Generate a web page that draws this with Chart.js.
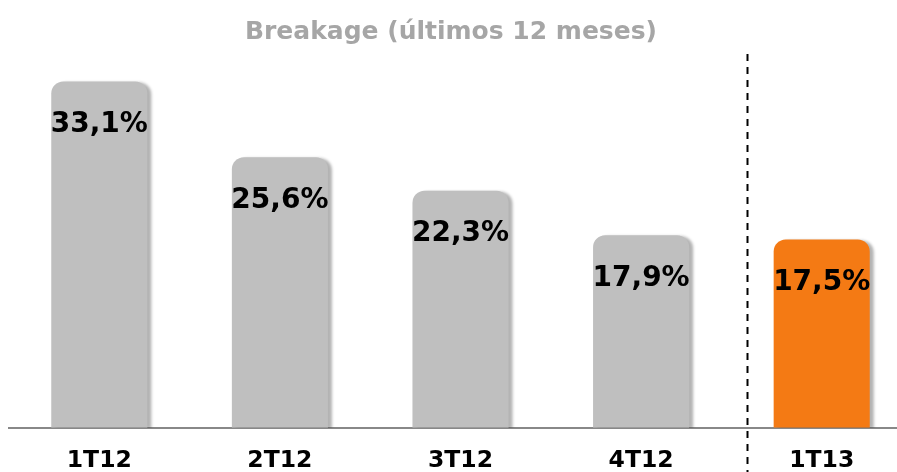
<!DOCTYPE html>
<html>
<head>
<meta charset="utf-8">
<script src="https://cdn.jsdelivr.net/npm/chart.js@4.4.1/dist/chart.umd.min.js"></script>
<style>
  html, body { margin: 0; padding: 0; background: #fff; }
  #wrap { width: 897px; height: 472px; overflow: hidden; position: relative; }
  #box { width: 912px; height: 472px; }
</style>
</head>
<body>
<div id="wrap"><div id="box"><canvas id="chart"></canvas></div></div>
<script>
// data
const quarters = ['1T12', '2T12', '3T12', '4T12', '1T13'];
const breakage = [33.1, 25.6, 22.3, 17.9, 17.5];
const titleText = 'Breakage (últimos 12 meses)';

const GRAY = '#bfbfbf';
const ORANGE = '#f47a14';
const Y_MIN = -1.1;
const Y_MAX = 36;
const DIVIDER_AT = 3.59; // between 4T12 and 1T13, in category units
const FONT = '"DejaVu Sans", Verdana, sans-serif';

// drop shadow on the right of each bar
const barShadow = {
  id: 'barShadow',
  beforeDatasetDraw(chart) {
    const ctx = chart.ctx;
    ctx.save();
    ctx.shadowColor = 'rgba(0,0,0,0.3)';
    ctx.shadowBlur = 3;
    ctx.shadowOffsetX = 4;
    ctx.shadowOffsetY = 1;
  },
  afterDatasetDraw(chart) {
    chart.ctx.restore();
  }
};

// value labels, dashed divider and title
const extras = {
  id: 'extras',
  afterDatasetsDraw(chart) {
    const ctx = chart.ctx;
    const meta = chart.getDatasetMeta(0);
    ctx.save();
    ctx.fillStyle = '#000';
    ctx.font = 'bold 28px ' + FONT;
    ctx.textAlign = 'center';
    ctx.textBaseline = 'middle';
    meta.data.forEach((bar, i) => {
      ctx.fillText(breakage[i].toFixed(1).replace('.', ',') + '%', bar.x, bar.y + 43);
    });

    const x = Math.round(chart.scales.x.getPixelForValue(DIVIDER_AT)) - 0.5;
    ctx.strokeStyle = '#000';
    ctx.lineWidth = 2;
    ctx.setLineDash([7, 6]);
    ctx.beginPath();
    ctx.moveTo(x, 54);
    ctx.lineTo(x, chart.height);
    ctx.stroke();
    ctx.setLineDash([]);

    ctx.fillStyle = '#a6a6a6';
    ctx.font = 'bold 25px ' + FONT;
    ctx.fillText(titleText, 451, 32);
    ctx.restore();
  }
};

new Chart(document.getElementById('chart'), {
  type: 'bar',
  data: {
    labels: quarters,
    datasets: [{
      data: breakage,
      base: Y_MIN,
      backgroundColor: quarters.map((q, i) => i === quarters.length - 1 ? ORANGE : GRAY),
      borderWidth: 0,
      borderRadius: { topLeft: 12, topRight: 12, bottomLeft: 0, bottomRight: 0 },
      borderSkipped: false,
      barPercentage: 0.532,
      categoryPercentage: 1
    }]
  },
  options: {
    responsive: true,
    maintainAspectRatio: false,
    animation: false,
    layout: { padding: { top: 52, left: 9, right: 0, bottom: -22 } },
    plugins: {
      legend: { display: false },
      title: { display: false },
      tooltip: { enabled: false }
    },
    scales: {
      x: {
        grid: { display: false, drawTicks: false },
        border: { display: true, color: '#888888', width: 2 },
        ticks: {
          color: '#000',
          padding: 19,
          font: { family: FONT, size: 23.5, weight: 'bold' }
        }
      },
      y: {
        display: false,
        min: Y_MIN,
        max: Y_MAX
      }
    }
  },
  plugins: [barShadow, extras]
});
</script>
</body>
</html>
